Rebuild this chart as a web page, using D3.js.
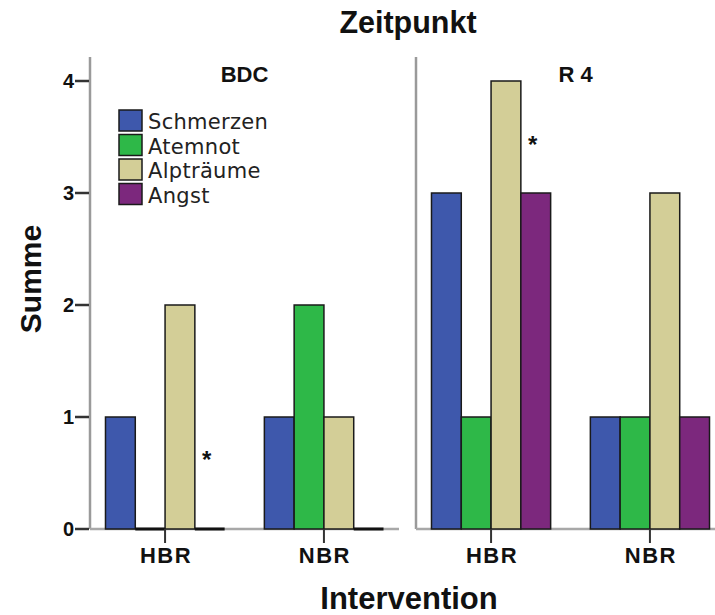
<!DOCTYPE html>
<html>
<head>
<meta charset="utf-8">
<script src="https://cdn.jsdelivr.net/npm/d3@7"></script>
<style>
  html, body { margin: 0; padding: 0; background: #fff; }
  svg { display: block; }
</style>
</head>
<body>
<svg id="chart" width="715" height="615"></svg>
<script>
// Zeitpunkt panels, intervention groups and symptom series
const panels = ["BDC", "R 4"];
const groups = ["HBR", "NBR"];
const series = ["Schmerzen", "Atemnot", "Alpträume", "Angst"];
const seriesColors = ["#3E58AC", "#2EB848", "#D3CE97", "#7C287D"];

// Summe per symptom (order follows `series`)
const bdcHBR = [1, 0, 2, 0];
const bdcNBR = [1, 2, 1, 0];
const r4HBR = [3, 1, 4, 3];
const r4NBR = [1, 1, 3, 1];

const yTicks = [0, 1, 2, 3, 4];

// significance stars: panel, group, symptom slot, height on the Summe scale
const starPanel = ["BDC", "R 4"];
const starGroup = ["HBR", "HBR"];
const starSeries = ["Angst", "Angst"];
const starLevel = [0.66, 3.47];

const values = {
  "BDC": { HBR: bdcHBR, NBR: bdcNBR },
  "R 4": { HBR: r4HBR, NBR: r4NBR }
};

const svg = d3.select("#chart");
const boldFont = "'Liberation Sans', Arial, sans-serif";
const legendFont = "'DejaVu Sans', 'Lucida Grande', sans-serif";

// layout
const panelLeft = [90, 416];
const panelWidth = 309;
const y0 = 529, yTop = 57;

const y = d3.scaleLinear().domain([0, 4]).range([y0, 81]);

const xGroup = d3.scaleBand().domain(groups).range([0, panelWidth])
  .paddingInner(0.25).paddingOuter(0.0975);
const xSeries = d3.scaleBand().domain(series).range([0, xGroup.bandwidth()]);
const color = d3.scaleOrdinal().domain(series).range(seriesColors);

// title
svg.append("text")
  .attr("x", 408).attr("y", 33)
  .attr("text-anchor", "middle")
  .style("font-family", boldFont).style("font-weight", "bold")
  .style("font-size", "30.5px").attr("fill", "#111")
  .text("Zeitpunkt");

// y axis title
svg.append("text")
  .attr("transform", "translate(41,279) rotate(-90)")
  .attr("text-anchor", "middle")
  .style("font-family", boldFont).style("font-weight", "bold")
  .style("font-size", "30px").attr("fill", "#111")
  .text("Summe");

// x axis title
svg.append("text")
  .attr("x", 409).attr("y", 609)
  .attr("text-anchor", "middle")
  .style("font-family", boldFont).style("font-weight", "bold")
  .style("font-size", "31px").attr("fill", "#111")
  .text("Intervention");

panels.forEach((p, pi) => {
  const g = svg.append("g").attr("transform", `translate(${panelLeft[pi]},0)`);

  // vertical frame line of the panel
  g.append("line")
    .attr("x1", 0).attr("x2", 0).attr("y1", yTop).attr("y2", y0)
    .attr("stroke", "#9a9a9a").attr("stroke-width", 2.5);

  // baseline
  g.append("line")
    .attr("x1", 0).attr("x2", panelWidth).attr("y1", y0).attr("y2", y0)
    .attr("stroke", "#a8a8a8").attr("stroke-width", 2.5);

  // panel label
  g.append("text")
    .attr("x", panelWidth / 2 + (pi === 0 ? 0 : 5)).attr("y", 82)
    .attr("text-anchor", "middle")
    .style("font-family", boldFont).style("font-weight", "bold")
    .style("font-size", "22px").attr("fill", "#111")
    .text(p);

  // bars
  groups.forEach(grp => {
    const gx = xGroup(grp);
    const vals = values[p][grp];
    series.forEach((s, si) => {
      const v = vals[si];
      const bx = gx + xSeries(s);
      const bw = xSeries.bandwidth();
      if (v > 0) {
        g.append("rect")
          .attr("x", bx).attr("y", y(v))
          .attr("width", bw).attr("height", y(0) - y(v))
          .attr("fill", color(s))
          .attr("stroke", "#1a1a1a").attr("stroke-width", 1.5);
      } else {
        g.append("line")
          .attr("x1", bx).attr("x2", bx + bw)
          .attr("y1", y(0)).attr("y2", y(0))
          .attr("stroke", "#111").attr("stroke-width", 3);
      }
    });

    // x tick and label
    const cx = gx + xGroup.bandwidth() / 2;
    g.append("line")
      .attr("x1", cx).attr("x2", cx).attr("y1", y0).attr("y2", y0 + 14)
      .attr("stroke", "#333").attr("stroke-width", 2);
    g.append("text")
      .attr("x", cx + 1).attr("y", 563)
      .attr("text-anchor", "middle")
      .style("font-family", boldFont).style("font-weight", "bold")
      .style("font-size", "22px").style("letter-spacing", "1.5px")
      .attr("fill", "#111")
      .text(grp);
  });

  // significance stars
  starPanel.forEach((sp, k) => {
    if (sp !== p) return;
    const sx = xGroup(starGroup[k]) + xSeries(starSeries[k]) + xSeries.bandwidth() / 2 - 3;
    g.append("text")
      .attr("x", sx).attr("y", y(starLevel[k]) + 13)
      .attr("text-anchor", "middle")
      .style("font-family", boldFont).style("font-weight", "bold")
      .style("font-size", "24px").attr("fill", "#111")
      .text("*");
  });
});

// y axis ticks and labels on the first panel
const axisG = svg.append("g").attr("transform", `translate(${panelLeft[0]},0)`);
yTicks.forEach(t => {
  axisG.append("line")
    .attr("x1", -15).attr("x2", -1).attr("y1", y(t)).attr("y2", y(t))
    .attr("stroke", "#333").attr("stroke-width", 2.5);
  axisG.append("text")
    .attr("x", -16).attr("y", y(t) + 7)
    .attr("text-anchor", "end")
    .style("font-family", boldFont).style("font-weight", "bold")
    .style("font-size", "20px").attr("fill", "#111")
    .text(t);
});

// legend
const legend = svg.append("g").attr("transform", "translate(119,110)");
series.forEach((s, i) => {
  const row = legend.append("g").attr("transform", `translate(0,${i * 24.5})`);
  row.append("rect")
    .attr("x", 0).attr("y", 0).attr("width", 23).attr("height", 21)
    .attr("fill", color(s)).attr("stroke", "#1a1a1a").attr("stroke-width", 1.5);
  row.append("text")
    .attr("x", 29).attr("y", 19)
    .style("font-family", legendFont)
    .style("font-size", "21px").style("letter-spacing", "0.3px")
    .attr("fill", "#222")
    .text(s);
});
</script>
</body>
</html>
